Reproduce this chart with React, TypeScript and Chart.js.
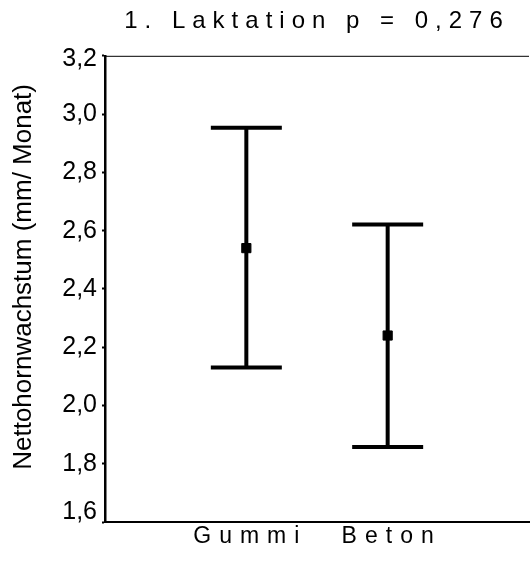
import React, { useEffect, useRef } from "react";
import { Chart, registerables } from "chart.js";

Chart.register(...registerables);

const categories = ["Gummi", "Beton"];
const means = [2.54, 2.24];
const upper = [2.953, 2.621];
const lower = [2.13, 1.857];
const yTicks = [1.6, 1.8, 2.0, 2.2, 2.4, 2.6, 2.8, 3.0, 3.2];
const titleText = "1. Laktation p = 0,276";
const yTitle = "Nettohornwachstum (mm/ Monat)";

const FONT = "'Liberation Sans', Arial, Helvetica, sans-serif";

const framePlugin = {
  id: "frameTop",
  afterDraw(chart: any) {
    const { ctx, chartArea } = chart;
    ctx.save();
    ctx.strokeStyle = "#000";
    ctx.lineWidth = 1;
    ctx.beginPath();
    ctx.moveTo(chartArea.left, chartArea.top + 0.5);
    ctx.lineTo(chartArea.right, chartArea.top + 0.5);
    ctx.stroke();
    ctx.restore();
  },
};

const spacingPlugin = {
  id: "letterSpacing",
  afterLayout(chart: any) {
    const patch = (obj: any, method: string, spacing: string, dy = 0) => {
      if (!obj || obj["__patched_" + method]) return;
      const orig = obj[method];
      obj[method] = function (...args: any[]) {
        const ctx: any = chart.ctx;
        const prev = ctx.letterSpacing;
        ctx.save();
        ctx.translate(0, dy);
        ctx.letterSpacing = spacing;
        try {
          return orig.apply(this, args);
        } finally {
          ctx.restore();
          ctx.letterSpacing = prev;
        }
      };
      obj["__patched_" + method] = true;
    };
    patch(chart.scales.x, "drawLabels", "8px");
    patch(chart.titleBlock, "draw", "7px");
    patch(chart.scales.y, "drawTitle", "0px", -12);

    // keep the end labels of the y axis inside the axis range, like the original
    const ys = chart.scales.y;
    if (ys && !ys.__patchedItems) {
      const origCompute = ys._computeLabelItems;
      ys._computeLabelItems = function (...args: any[]) {
        const items = origCompute.apply(this, args);
        if (items && items.length) {
          const first = items[0];
          const last = items[items.length - 1];
          if (first.options && first.options.translation) {
            first.options.translation = [first.options.translation[0], first.options.translation[1] - 10];
          }
          if (last.options && last.options.translation) {
            last.options.translation = [last.options.translation[0], last.options.translation[1] + 3];
          }
        }
        return items;
      };
      ys.__patchedItems = true;
      ys._labelItems = null;
    }
  },
};

export default function App() {
  const ref = useRef<HTMLCanvasElement | null>(null);

  useEffect(() => {
    if (!ref.current) return;
    const barDatasets = categories.map((c, i) => ({
      label: c,
      data: [
        { x: i + 1, y: lower[i] },
        { x: i + 1, y: upper[i] },
      ],
      showLine: true,
      borderColor: "#000",
      borderWidth: 4,
      pointStyle: "line",
      pointRadius: 35.5,
      pointHoverRadius: 35.5,
      pointBorderWidth: 4,
      pointBorderColor: "#000",
      pointBackgroundColor: "#000",
    }));
    const meanDataset = {
      label: "Mittelwert",
      data: categories.map((_, i) => ({ x: i + 1, y: means[i] })),
      showLine: false,
      pointStyle: "rect",
      pointRadius: 6.5,
      pointBorderWidth: 1,
      pointBackgroundColor: "#000",
      pointBorderColor: "#000",
    };

    const chart = new Chart(ref.current, {
      type: "scatter",
      data: { datasets: [...barDatasets, meanDataset] as any },
      plugins: [framePlugin, spacingPlugin],
      options: {
        animation: false,
        responsive: false,
        devicePixelRatio: 1,
        layout: { autoPadding: false, padding: { left: 8, right: 0, top: 0, bottom: 0 } },
        plugins: {
          legend: { display: false },
          tooltip: { enabled: false },
          title: {
            display: true,
            text: titleText,
            fullSize: false,
            color: "#000",
            font: { family: FONT, size: 24, weight: "normal" },
            padding: { top: 7, bottom: 20 },
          },
        },
        scales: {
          x: {
            type: "linear",
            min: 0,
            max: 3,
            afterBuildTicks: (scale: any) => {
              scale.ticks = [0, 1, 2, 3].map((v) => ({ value: v }));
            },
            afterFit: (scale: any) => {
              scale.height = 40;
            },
            grid: { display: false, drawTicks: false },
            border: { display: true, color: "#000", width: 2 },
            ticks: {
              color: "#000",
              padding: 1,
              labelOffset: 4,
              autoSkip: false,
              maxRotation: 0,
              font: { family: FONT, size: 23 },
              callback: (v: any) => {
                const idx = Math.round(Number(v)) - 1;
                return categories[idx] ?? "";
              },
            },
          },
          y: {
            type: "linear",
            min: 1.6,
            max: 3.2,
            afterBuildTicks: (scale: any) => {
              scale.ticks = yTicks.map((v) => ({ value: v }));
            },
            afterFit: (scale: any) => {
              scale.width = 97;
            },
            grid: {
              display: true,
              drawOnChartArea: false,
              drawTicks: true,
              tickLength: 3,
              tickWidth: 2,
              color: "#000",
            },
            border: { display: true, color: "#000", width: 2.5 },
            ticks: {
              color: "#000",
              padding: 5,
              font: { family: FONT, size: 25 },
              callback: (v: any) => Number(v).toFixed(1).replace(".", ","),
            },
            title: {
              display: true,
              text: yTitle,
              color: "#000",
              padding: { top: 0, bottom: 0 },
              font: { family: FONT, size: 26 },
            },
          },
        },
      } as any,
    });
    return () => chart.destroy();
  }, []);

  return (
    <div style={{ position: "absolute", left: 0, top: 0, width: 530, height: 562 }}>
      <canvas ref={ref} width={530} height={562} style={{ width: 530, height: 562, display: "block" }} />
    </div>
  );
}
